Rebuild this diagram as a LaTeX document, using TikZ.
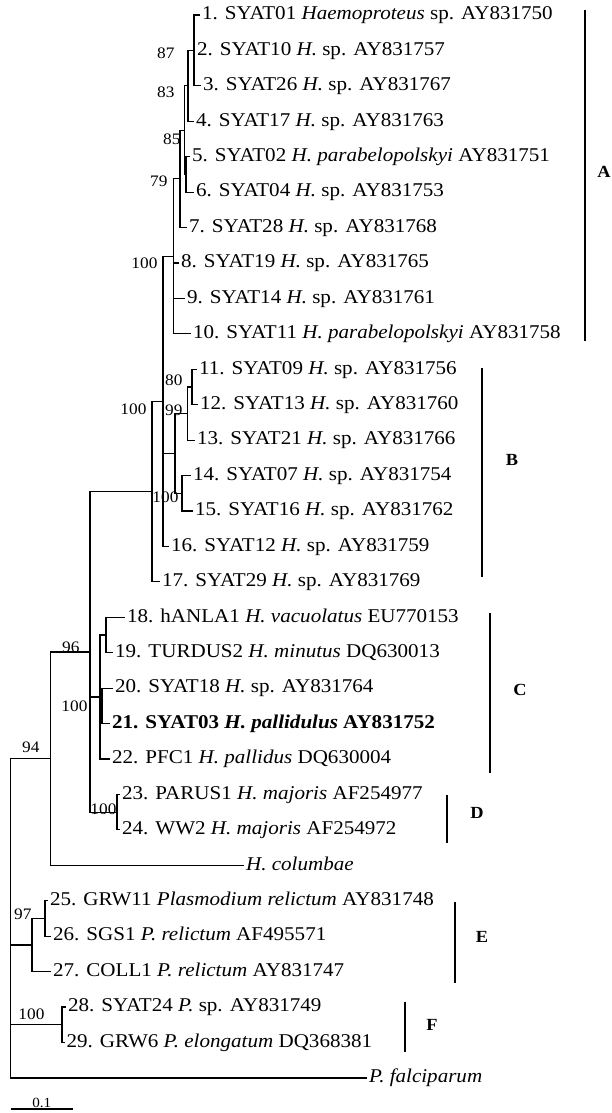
\documentclass[tikz,border=0pt]{standalone}
\usepackage{fontspec}
\setmainfont{Liberation Serif}[FakeStretch=1.08]
\usetikzlibrary{positioning}

\begin{document}
\begin{tikzpicture}[x=1pt,y=-35.43pt,line width=1.2pt,
      leaf/.style={anchor=west,inner xsep=1.5pt,inner ysep=0pt,text height=12.5pt,text depth=3pt,font=\fontsize{19.5}{21}\selectfont},
      boot/.style={anchor=east,inner sep=0pt,font=\fontsize{16}{17}\selectfont},
      clade/.style={inner sep=0pt,font=\fontsize{17}{19}\selectfont\bfseries},
      bar/.style={line width=2pt}]
  \useasboundingbox (0,0.5766) rectangle (611,31.9907);

  % leaves
  \node[leaf] (l1) at (200,1) {1. SYAT01 \textit{Haemoproteus} sp. AY831750};
  \node[leaf] (l2) at (195,2) {2. SYAT10 \textit{H.} sp. AY831757};
  \node[leaf] (l3) at (201,3) {3. SYAT26 \textit{H.} sp. AY831767};
  \node[leaf] (l4) at (194,4) {4. SYAT17 \textit{H.} sp. AY831763};
  \node[leaf] (l5) at (190,5) {5. SYAT02 \textit{H. parabelopolskyi} AY831751};
  \node[leaf] (l6) at (194,6) {6. SYAT04 \textit{H.} sp. AY831753};
  \node[leaf] (l7) at (187,7) {7. SYAT28 \textit{H.} sp. AY831768};
  \node[leaf] (l8) at (179,8) {8. SYAT19 \textit{H.} sp. AY831765};
  \node[leaf] (l9) at (185,9) {9. SYAT14 \textit{H.} sp. AY831761};
  \node[leaf] (l10) at (191,10) {10. SYAT11 \textit{H. parabelopolskyi} AY831758};
  \node[leaf] (l11) at (197,11) {11. SYAT09 \textit{H.} sp. AY831756};
  \node[leaf] (l12) at (198,12) {12. SYAT13 \textit{H.} sp. AY831760};
  \node[leaf] (l13) at (195,13) {13. SYAT21 \textit{H.} sp. AY831766};
  \node[leaf] (l14) at (191,14) {14. SYAT07 \textit{H.} sp. AY831754};
  \node[leaf] (l15) at (193,15) {15. SYAT16 \textit{H.} sp. AY831762};
  \node[leaf] (l16) at (169,16) {16. SYAT12 \textit{H.} sp. AY831759};
  \node[leaf] (l17) at (160,17) {17. SYAT29 \textit{H.} sp. AY831769};
  \node[leaf] (l18) at (125,18) {18. hANLA1 \textit{H. vacuolatus} EU770153};
  \node[leaf] (l19) at (113,19) {19. TURDUS2 \textit{H. minutus} DQ630013};
  \node[leaf] (l20) at (113,20) {20. SYAT18 \textit{H.} sp. AY831764};
  \node[leaf] (l21) at (110,21) {\bfseries 21. SYAT03 \textit{H. pallidulus} AY831752};
  \node[leaf] (l22) at (110,22) {22. PFC1 \textit{H. pallidus} DQ630004};
  \node[leaf] (l23) at (120,23) {23. PARUS1 \textit{H. majoris} AF254977};
  \node[leaf] (l24) at (120,24) {24. WW2 \textit{H. majoris} AF254972};
  \node[leaf] (hcol) at (244,25) {\textit{H. columbae}};
  \node[leaf] (l25) at (48,26) {25. GRW11 \textit{Plasmodium relictum} AY831748};
  \node[leaf] (l26) at (51,27) {26. SGS1 \textit{P. relictum} AF495571};
  \node[leaf] (l27) at (51,28) {27. COLL1 \textit{P. relictum} AY831747};
  \node[leaf] (l28) at (66,29) {28. SYAT24 \textit{P.} sp. AY831749};
  \node[leaf] (l29) at (64.5,30) {29. GRW6 \textit{P. elongatum} DQ368381};
  \node[leaf] (pfal) at (367,31) {\textit{P. falciparum}};

  % inner nodes
  \coordinate (n13) at (194,2);
  \coordinate (n87) at (188,2);
  \coordinate (n83) at (188,3);
  \coordinate (n56) at (186,5.5);
  \coordinate (n85) at (184.5,4.25);
  \coordinate (n79) at (180,5.625);
  \coordinate (nA) at (173.5,7.8125);
  \coordinate (n80) at (192,11.5);
  \coordinate (n99) at (187.5,12.25);
  \coordinate (n1415) at (182,14.5);
  \coordinate (nB) at (175,13.375);
  \coordinate (nAB) at (163,11.906);
  \coordinate (nT) at (152,14.453);
  \coordinate (n1819) at (106,18.5);
  \coordinate (n2021) at (102,20.5);
  \coordinate (nC) at (100,20.25);
  \coordinate (nD) at (117,23.5);
  \coordinate (n96) at (90,18.977);
  \coordinate (n94) at (50.7,21.988);
  \coordinate (n2526) at (45,26.5);
  \coordinate (nE) at (32,27.25);
  \coordinate (nF) at (62,29.5);
  \coordinate (root) at (10.7,26.494);

  % branches
  \draw (n13) |- (l1.west) (n13) |- (l3.west);
  \draw (n87) |- (n13) (n87) |- (l2.west);
  \draw (n83) |- (n87) (n83) |- (l4.west);
  \draw (n56) |- (l5.west) (n56) |- (l6.west);
  \draw (n85) |- (n83) (n85) |- (n56);
  \draw (n79) |- (n85) (n79) |- (l7.west);
  \draw (nA) |- (n79) (nA) |- (l8.west) (nA) |- (l9.west) (nA) |- (l10.west);
  \draw (n80) |- (l11.west) (n80) |- (l12.west);
  \draw (n99) |- (n80) (n99) |- (l13.west);
  \draw (n1415) |- (l14.west) (n1415) |- (l15.west);
  \draw (nB) |- (n99) (nB) |- (n1415);
  \draw (nAB) |- (nA) (nAB) |- (nB) (nAB) |- (l16.west);
  \draw (nT) |- (nAB) (nT) |- (l17.west);
  \draw (n1819) |- (l18.west) (n1819) |- (l19.west);
  \draw (n2021) |- (l20.west) (n2021) |- (l21.west);
  \draw (nC) |- (n1819) (nC) |- (n2021) (nC) |- (l22.west);
  \draw (nD) |- (l23.west) (nD) |- (l24.west);
  \draw (n96) |- (nT) (n96) |- (nC) (n96) |- (nD);
  \draw (n94) |- (n96) (n94) |- (hcol.west);
  \draw (n2526) |- (l25.west) (n2526) |- (l26.west);
  \draw (nE) |- (n2526) (nE) |- (l27.west);
  \draw (nF) |- (l28.west) (nF) |- (l29.west);
  \draw (root) |- (n94) (root) |- (nE) (root) |- (nF) (root) |- (pfal.west);

  % bootstrap values
  \node[boot] (b87) at (175,2.07) {87};
  \node[boot] (b83) at (175,3.17) {83};
  \node[boot] (b85) at (181,4.5) {85};
  \node[boot] (b79) at (168,5.69) {79};
  \node[boot] (b100a) at (158,8.0) {100};
  \node[boot] (b80) at (183,11.3) {80};
  \node[boot] (b99) at (183,12.15) {99};
  \node[boot] (b100b) at (179,14.6) {100};
  \node[boot] (b100t) at (147,12.12) {100};
  \node[boot] (b96) at (80,18.84) {96};
  \node[boot] (b100c) at (88,20.5) {100};
  \node[boot] (b94) at (40,21.66) {94};
  \node[boot] (b100d) at (117,23.41) {100};
  \node[boot] (b97) at (32,26.37) {97};
  \node[boot] (b100f) at (45,29.2) {100};

  % clade bars
  \draw[bar] (585,0.86) -- (585,10.2);
  \node[clade] (cA) at (604,5.43) {A};
  \draw[bar] (482,10.96) -- (482,16.86);
  \node[clade] (cB) at (512,13.56) {B};
  \draw[bar] (490,17.88) -- (490,22.39);
  \node[clade] (cC) at (520,20.05) {C};
  \draw[bar] (447,23.02) -- (447,24.37);
  \node[clade] (cD) at (477,23.52) {D};
  \draw[bar] (455,26.03) -- (455,28.32);
  \node[clade] (cE) at (482,27.02) {E};
  \draw[bar] (405,28.86) -- (405,30.27);
  \node[clade] (cF) at (432,29.51) {F};

  % scale bar
  \coordinate (sb1) at (10.7,31.878);
  \coordinate (sb2) at (72.7,31.878);
  \draw (sb1) -- node[above=1pt,inner sep=0pt,font=\fontsize{14}{15}\selectfont] (sbl) {0.1} (sb2);
\end{tikzpicture}
\end{document}
